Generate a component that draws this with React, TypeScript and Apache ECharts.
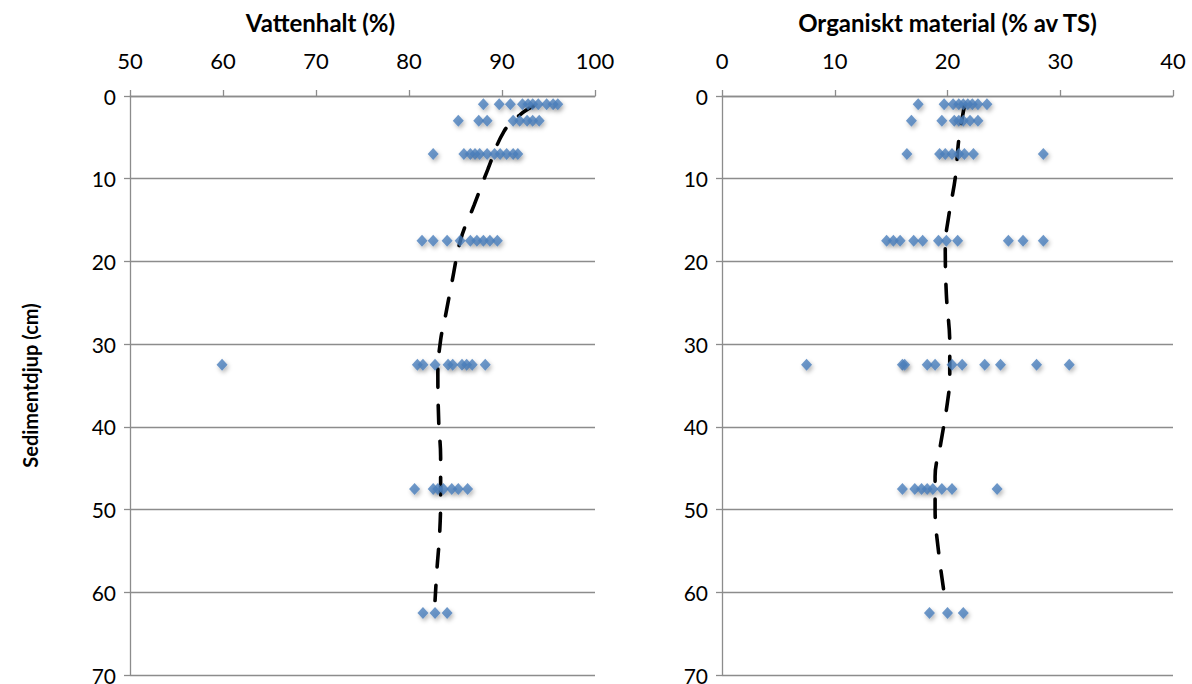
import React, { useEffect, useRef } from "react";
import * as echarts from "echarts";

// Depths (cm) of sample levels
const depths = [1, 3, 7, 17.5, 32.5, 47.5, 62.5];

// Vattenhalt (%) per depth level
const water1 = [88.0, 89.7, 90.9, 92.2, 92.8, 93.3, 93.9, 94.8, 95.5, 96.0];
const water3 = [85.3, 87.5, 88.4, 91.2, 91.9, 92.7, 93.3, 94.0];
const water7 = [82.6, 85.9, 86.6, 87.1, 87.6, 88.4, 89.2, 89.8, 90.5, 91.2, 91.7];
const water17 = [81.4, 82.6, 84.1, 85.5, 86.6, 87.3, 88.0, 88.7, 89.5];
const water32 = [59.9, 80.9, 81.5, 82.8, 84.2, 84.7, 85.7, 86.2, 86.8, 88.2];
const water47 = [80.6, 82.6, 83.1, 83.7, 84.6, 85.3, 86.3];
const water62 = [81.5, 82.8, 84.1];
const waterRows = [water1, water3, water7, water17, water32, water47, water62];

// Organiskt material (% av TS) per depth level
const org1 = [17.4, 19.7, 20.5, 21.0, 21.4, 21.8, 22.2, 22.7, 23.5];
const org3 = [16.8, 19.5, 20.6, 21.0, 21.4, 22.0, 22.7];
const org7 = [16.4, 19.3, 19.8, 20.4, 21.0, 21.5, 22.3, 28.5];
const org17 = [14.6, 15.2, 15.8, 17.0, 17.8, 19.2, 19.9, 20.9, 25.4, 26.7, 28.5];
const org32 = [7.5, 16.0, 16.2, 18.2, 18.9, 20.4, 21.3, 23.3, 24.7, 27.9, 30.8];
const org47 = [16.0, 17.1, 17.7, 18.2, 18.7, 19.5, 20.4, 24.4];
const org62 = [18.4, 20.0, 21.4];
const orgRows = [org1, org3, org7, org17, org32, org47, org62];

// Trend lines
const waterTrendDepth = [1.2, 2.3, 4.3, 8.8, 13.2, 17.2, 22.6, 26.7, 29.5, 33.5, 39.5, 43.6, 48.5, 52.8, 57.3, 61.0];
const waterTrendValue = [93.4, 91.9, 90.2, 88.5, 87.0, 85.6, 84.6, 83.9, 83.4, 83.1, 83.2, 83.4, 83.4, 83.3, 83.0, 82.8];
const orgTrendDepth = [1.2, 5.3, 9.8, 14.6, 18.2, 24, 30, 34, 37, 42, 46, 50, 55, 61];
const orgTrendValue = [21.5, 21.0, 20.7, 20.1, 19.8, 19.9, 20.2, 20.2, 20.0, 19.4, 18.9, 18.9, 19.2, 19.8];

// Axis ticks
const waterTicks = { min: 50, max: 100, interval: 10 };
const orgTicks = { min: 0, max: 40, interval: 10 };
const depthTicks = { min: 0, max: 70, interval: 10 };

const FONT = "Lato";
const GRID_COLOR = "#8c8c8c";
const POINT_COLOR = "#4a7ebb";

function toPoints(rows: number[][]) {
  const out: number[][] = [];
  rows.forEach((row, i) => row.forEach((v) => out.push([v, depths[i]])));
  return out;
}

function xAxisFor(
  idx: number,
  name: string,
  t: { min: number; max: number; interval: number },
  namePadding: number[]
) {
  return {
    type: "value",
    gridIndex: idx,
    position: "top",
    min: t.min,
    max: t.max,
    interval: t.interval,
    name,
    nameLocation: "middle",
    nameGap: 62,
    nameTextStyle: {
      fontFamily: FONT,
      fontSize: 24,
      fontWeight: "bold",
      color: "#000",
      padding: namePadding,
    },
    axisLine: { show: true, lineStyle: { color: GRID_COLOR, width: 1.3 } },
    axisTick: { show: true, inside: false, length: 6, lineStyle: { color: GRID_COLOR, width: 1.3 } },
    axisLabel: { fontFamily: FONT, fontSize: 22, color: "#000", margin: 25 },
    splitLine: { show: false },
  };
}

function yAxisFor(idx: number, withName: boolean) {
  return {
    type: "value",
    gridIndex: idx,
    inverse: true,
    min: depthTicks.min,
    max: depthTicks.max,
    interval: depthTicks.interval,
    name: withName ? "Sedimentdjup (cm)" : "",
    nameLocation: "middle",
    nameGap: 90,
    nameTextStyle: { fontFamily: FONT, fontSize: 20, fontWeight: "bold", color: "#000" },
    axisLine: { show: true, onZero: false, lineStyle: { color: GRID_COLOR, width: 1.3 } },
    axisTick: { show: true, inside: false, length: 6, lineStyle: { color: GRID_COLOR, width: 1.3 } },
    axisLabel: { fontFamily: FONT, fontSize: 21, color: "#000", margin: 14 },
    splitLine: { show: true, lineStyle: { color: GRID_COLOR, width: 1.3 } },
  };
}

const scatterStyle = {
  color: POINT_COLOR,
  shadowBlur: 4,
  shadowColor: "rgba(0,0,0,0.35)",
  shadowOffsetX: 1.5,
  shadowOffsetY: 2.5,
};

const trendStyle = {
  color: "#000",
  width: 3.6,
  type: [18, 18],
  cap: "round",
};

export default function App() {
  const ref = useRef<HTMLDivElement>(null);
  useEffect(() => {
    if (!ref.current) return;
    const chart = echarts.init(ref.current, null, { renderer: "svg" });
    chart.setOption({
      animation: false,
      backgroundColor: "#fff",
      textStyle: { fontFamily: FONT },
      grid: [
        { left: 130, top: 96, width: 465, height: 579, containLabel: false, outerBoundsMode: "none" },
        { left: 722, top: 96, width: 451, height: 579, containLabel: false, outerBoundsMode: "none" },
      ],
      xAxis: [
        xAxisFor(0, "Vattenhalt (%)", waterTicks, [0, 84, 0, 0]),
        xAxisFor(1, "Organiskt material (% av TS)", orgTicks, [0, 0, 0, 0]),
      ],
      yAxis: [yAxisFor(0, true), yAxisFor(1, false)],
      series: [
        {
          type: "line",
          xAxisIndex: 0,
          yAxisIndex: 0,
          data: waterTrendValue.map((v, i) => [v, waterTrendDepth[i]]),
          smooth: 0.4,
          symbol: "none",
          lineStyle: trendStyle,
          z: 3,
        },
        {
          type: "line",
          xAxisIndex: 1,
          yAxisIndex: 1,
          data: orgTrendValue.map((v, i) => [v, orgTrendDepth[i]]),
          smooth: 0.4,
          symbol: "none",
          lineStyle: trendStyle,
          z: 3,
        },
        {
          type: "scatter",
          xAxisIndex: 0,
          yAxisIndex: 0,
          data: toPoints(waterRows),
          symbol: "diamond",
          symbolSize: [11, 12],
          itemStyle: scatterStyle,
          z: 4,
        },
        {
          type: "scatter",
          xAxisIndex: 1,
          yAxisIndex: 1,
          data: toPoints(orgRows),
          symbol: "diamond",
          symbolSize: [11, 12],
          itemStyle: scatterStyle,
          z: 4,
        },
      ],
    });
    return () => chart.dispose();
  }, []);
  return <div ref={ref} style={{ width: 1192, height: 684, position: "absolute", left: 0, top: 0 }} />;
}
